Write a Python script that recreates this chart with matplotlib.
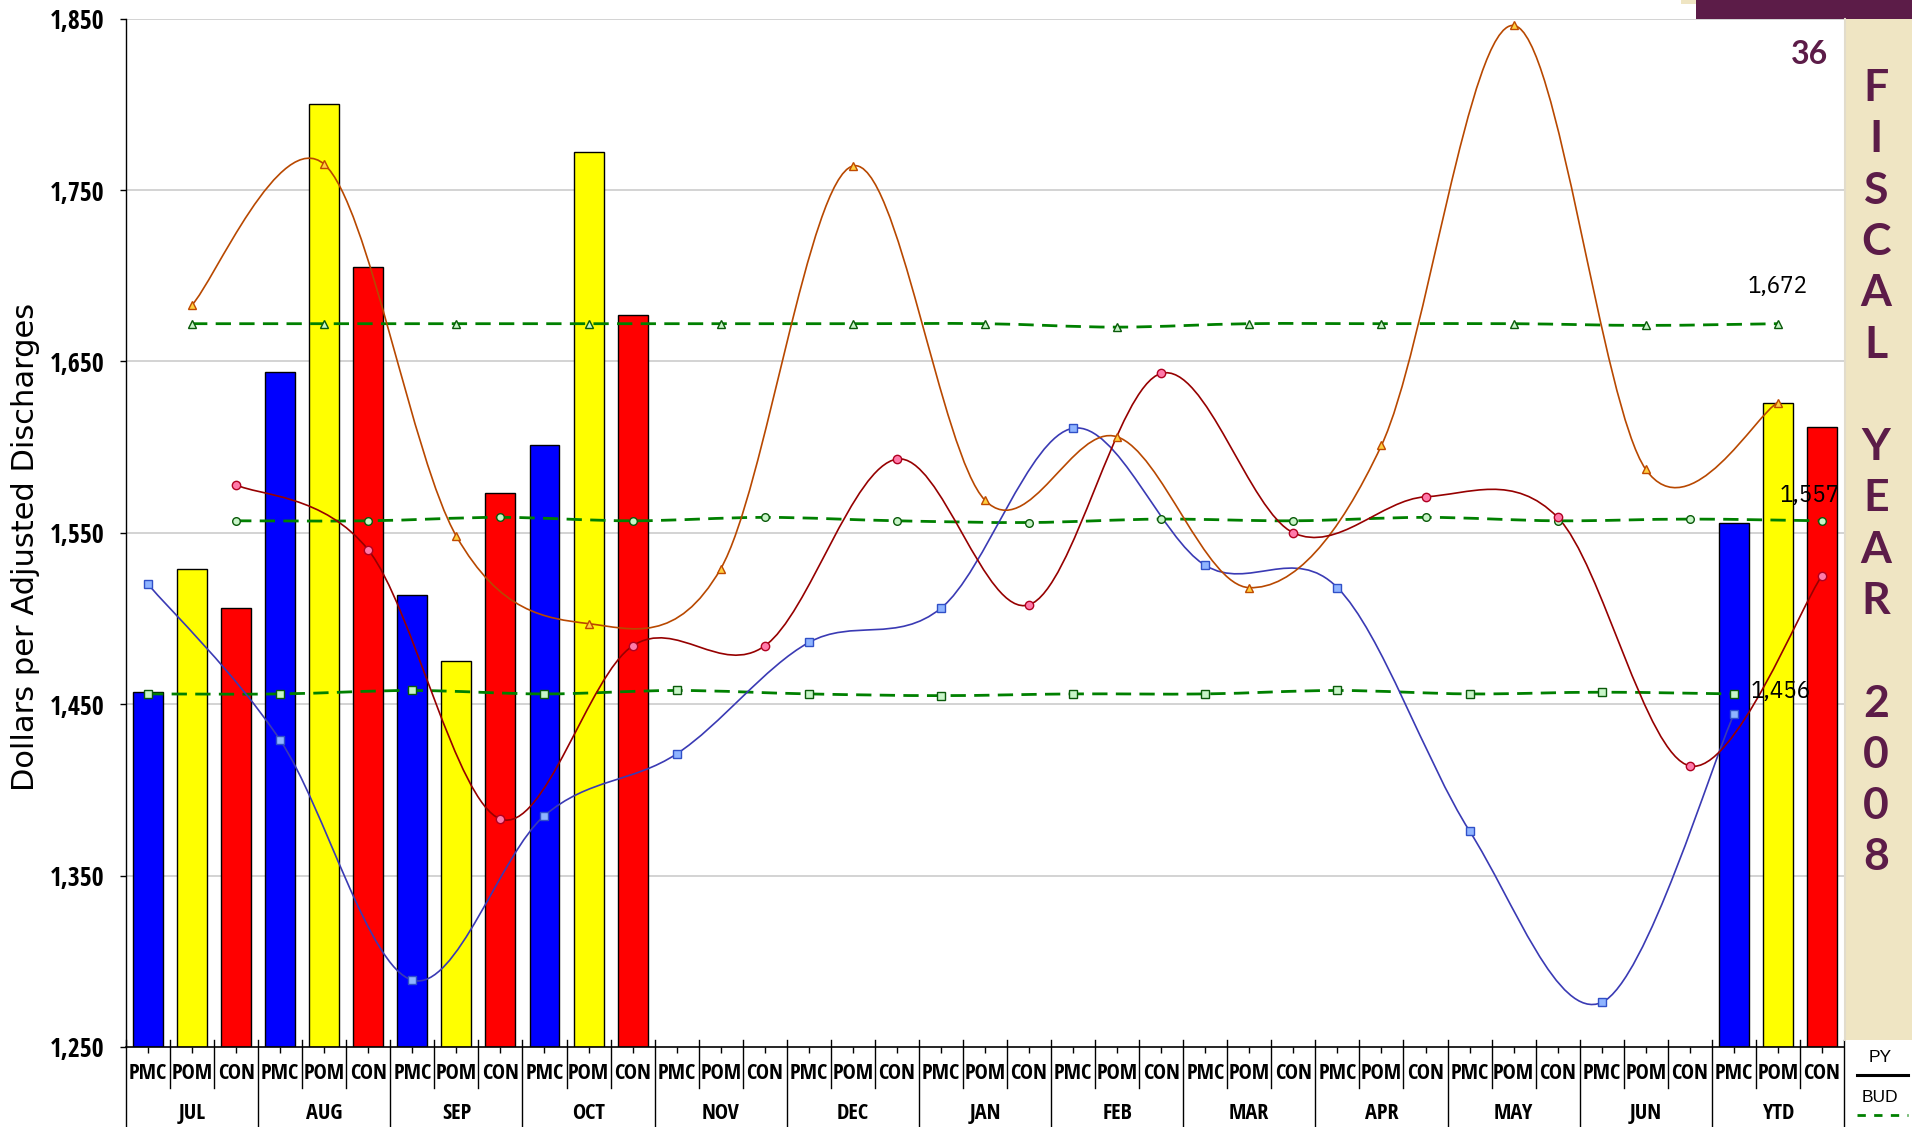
import numpy as np
import matplotlib
matplotlib.use("Agg")
import matplotlib.pyplot as plt
from matplotlib.path import Path
from matplotlib.patches import PathPatch, Rectangle
from matplotlib.lines import Line2D

# ---------------- data ----------------
months = ["JUL", "AUG", "SEP", "OCT", "NOV", "DEC", "JAN", "FEB", "MAR",
          "APR", "MAY", "JUN", "YTD"]
categories = ["PMC", "POM", "CON"]
nan = np.nan

# actual cost per adjusted discharge (bars)
actual_pmc = [1457, 1644, 1514, 1601, nan, nan, nan, nan, nan, nan, nan, nan, 1556]
actual_pom = [1529, 1800, 1475, 1772, nan, nan, nan, nan, nan, nan, nan, nan, 1626]
actual_con = [1506, 1705, 1573, 1677, nan, nan, nan, nan, nan, nan, nan, nan, 1612]

# prior year (smoothed lines)
py_pmc = [1520, 1429, 1289, 1385, 1421, 1486, 1506, 1611, 1531, 1518, 1376, 1276, 1444]
py_pom = [1683, 1765, 1548, 1497, 1529, 1764, 1569, 1606, 1518, 1601, 1846, 1587, 1626]
py_con = [1578, 1540, 1383, 1484, 1484, 1593, 1508, 1643, 1550, 1571, 1559, 1414, 1525]

# budget (dashed lines)
bud_pmc = [1456, 1456, 1458, 1456, 1458, 1456, 1455, 1456, 1456, 1458, 1456, 1457, 1456]
bud_pom = [1672, 1672, 1672, 1672, 1672, 1672, 1672, 1670, 1672, 1672, 1672, 1671, 1672]
bud_con = [1557, 1557, 1559, 1557, 1559, 1557, 1556, 1558, 1557, 1559, 1557, 1558, 1557]

y_ticks = [1250, 1350, 1450, 1550, 1650, 1750, 1850]
side_title = "FISCAL YEAR 2008"
page_number = "36"

# ---------------- styling ----------------
W, H = 1912, 1127
PURPLE = "#5C1C48"
TAN = "#EFE5C3"
NARROW_BOLD = ["Open Sans Condensed", "DejaVu Sans"]
NARROW = ["IBM Plex Sans Condensed", "DejaVu Sans"]
bar_colors = ["#0000FF", "#FFFF00", "#FF0000"]
py_styles = [
    dict(color="#3A3AB4", marker="s", mfc="#8FB4FF", mec="#3050C8"),
    dict(color="#B84800", marker="^", mfc="#FFD040", mec="#C04A00"),
    dict(color="#960000", marker="o", mfc="#FF7AAA", mec="#B00020"),
]
bud_markers = ["s", "^", "o"]
GREEN = "#008000"


def fx(px):
    return px / W


def fy(py):
    return 1 - py / H


def smooth_path(xs, ys, t=1.0 / 6.0):
    """Cubic Bezier path through the points, spreadsheet-style smoothing."""
    pts = np.column_stack([xs, ys]).astype(float)
    n = len(pts)
    verts = [pts[0]]
    codes = [Path.MOVETO]
    for i in range(n - 1):
        p0 = pts[i - 1] if i > 0 else pts[i]
        p1 = pts[i]
        p2 = pts[i + 1]
        p3 = pts[i + 2] if i + 2 < n else pts[i + 1]
        verts += [p1 + (p2 - p0) * t, p2 - (p3 - p1) * t, p2]
        codes += [Path.CURVE4] * 3
    return Path(verts, codes)


fig = plt.figure(figsize=(W / 100, H / 100), dpi=100)
fig.patch.set_facecolor("white")

ax_left, ax_right, ax_top, ax_bottom = 126, 1844, 18.6, 1047
ax = fig.add_axes([fx(ax_left), fy(ax_bottom),
                   fx(ax_right) - fx(ax_left), fy(ax_top) - fy(ax_bottom)])

n_m = len(months)
n_c = len(categories)


def slot(m, c):
    return m * n_c + c


ax.set_xlim(-0.5, n_m * n_c - 0.5)
ax.set_ylim(y_ticks[0], y_ticks[-1])

# gridlines
for v in y_ticks[1:]:
    ax.axhline(v, color="#C8C8C8", lw=1.1, zorder=0)

# bars
bar_series = [actual_pmc, actual_pom, actual_con]
for c, vals in enumerate(bar_series):
    xs = [slot(m, c) for m in range(n_m)]
    ax.bar(xs, np.array(vals) - y_ticks[0], bottom=y_ticks[0], width=0.68,
           color=bar_colors[c], edgecolor="black", linewidth=1.0, zorder=2)

# budget lines (dashed, smoothed)
bud_series = [bud_pmc, bud_pom, bud_con]
for c, vals in enumerate(bud_series):
    xs = [slot(m, c) for m in range(n_m)]
    ax.add_patch(PathPatch(smooth_path(xs, vals), fill=False, edgecolor=GREEN,
                           lw=2.0, linestyle=(0, (5.5, 3.0)), zorder=3))
    ax.plot(xs, vals, linestyle="none", marker=bud_markers[c], ms=5.5,
            mfc="#C8F5C8", mec="#0A5A0A", mew=1.0, zorder=5)

# prior-year lines (solid, smoothed)
py_series = [py_pmc, py_pom, py_con]
for c, vals in enumerate(py_series):
    st = py_styles[c]
    xs = [slot(m, c) for m in range(n_m)]
    ax.add_patch(PathPatch(smooth_path(xs, vals), fill=False,
                           edgecolor=st["color"], lw=1.2, zorder=4))
    ax.plot(xs, vals, linestyle="none", marker=st["marker"], ms=6,
            mfc=st["mfc"], mec=st["mec"], mew=1.0, zorder=6)

# budget value labels at YTD
ytd = n_m - 1
lab_font = dict(family=NARROW, fontsize=18, color="black")
ax.annotate(f"{bud_pom[ytd]:,}", (slot(ytd, 1), bud_pom[ytd]), xytext=(0, 27),
            textcoords="offset points", ha="center", va="center", zorder=7, **lab_font)
ax.annotate(f"{bud_con[ytd]:,}", (slot(ytd, 2), bud_con[ytd]), xytext=(-9, 18),
            textcoords="offset points", ha="center", va="center", zorder=7, **lab_font)
ax.annotate(f"{bud_pmc[ytd]:,}", (slot(ytd, 0), bud_pmc[ytd]), xytext=(12, 2),
            textcoords="offset points", ha="left", va="center", zorder=7, **lab_font)

# axes styling
for s in ["top", "right"]:
    ax.spines[s].set_visible(False)
ax.spines["left"].set_color("black")
ax.spines["bottom"].set_color("black")
ax.spines["left"].set_linewidth(1.0)
ax.spines["bottom"].set_linewidth(1.2)
ax.set_yticks(y_ticks)
ax.set_yticklabels([f"{v:,}" for v in y_ticks], fontfamily=NARROW_BOLD,
                   fontweight="bold", fontsize=18.5)
ax.tick_params(axis="y", direction="out", length=4.5, width=1, pad=11)
ax.set_xticks([slot(m, c) for m in range(n_m) for c in range(n_c)])
ax.set_xticklabels([])
ax.tick_params(axis="x", direction="out", length=4, width=1)

# category axis: sub-labels, month labels and separators
ph = ax_bottom - ax_top
tr = ax.get_xaxis_transform()
y_sub = -(1073.5 - ax_bottom) / ph
y_month = -(1113.5 - ax_bottom) / ph
y_sep_short = -(1088 - ax_bottom) / ph
y_sep_long = -(1127 - ax_bottom) / ph
y_sep_top = 7 / ph
for m in range(n_m):
    for c in range(n_c):
        ax.text(slot(m, c), y_sub, categories[c], transform=tr, ha="center",
                va="center", fontfamily=NARROW_BOLD, fontweight="bold",
                fontsize=16, clip_on=False)
    ax.text(slot(m, 1), y_month, months[m], transform=tr, ha="center",
            va="center", fontfamily=NARROW_BOLD, fontweight="bold",
            fontsize=16, clip_on=False)
for b in range(n_m * n_c + 1):
    xb = b - 0.5
    low = y_sep_long if b % n_c == 0 else y_sep_short
    ax.add_line(Line2D([xb, xb], [y_sep_top, low], transform=tr, color="black",
                       lw=1.0, clip_on=False))

# y-axis title
fig.text(fx(26), fy(547), "Dollars per Adjusted Discharges", rotation=90,
         ha="center", va="center", fontsize=22, family="DejaVu Sans")

# side banner
fig.patches.append(Rectangle((fx(1845), fy(1040)), fx(1912) - fx(1845),
                             fy(18.6) - fy(1040), transform=fig.transFigure,
                             facecolor=TAN, edgecolor="none", zorder=0))
fig.lines.append(Line2D([fx(1845), fx(1845)], [fy(18.6), fy(1040)],
                        transform=fig.transFigure, color="#E2DCCB", lw=1.5))
fig.patches.append(Rectangle((fx(1696), fy(19)), fx(1912) - fx(1696),
                             fy(0) - fy(19), transform=fig.transFigure,
                             facecolor=PURPLE, edgecolor="none"))
fig.patches.append(Rectangle((fx(1681), fy(4)), fx(1696) - fx(1681),
                             fy(0) - fy(4), transform=fig.transFigure,
                             facecolor=TAN, edgecolor="none"))
fig.text(fx(1809), fy(54), page_number, ha="center", va="center",
         fontsize=23, color=PURPLE, family="Lato", fontweight="bold")
for i, ch in enumerate(side_title):
    if ch == " ":
        continue
    fig.text(fx(1876), fy(88 + 51.3 * i), ch, ha="center", va="center",
             fontsize=32, color=PURPLE, family="Lato", fontweight="bold")

# legend box at the bottom right
fig.text(fx(1880), fy(1058), "PY", ha="center", va="center", fontsize=12.5,
         family="Liberation Sans")
fig.lines.append(Line2D([fx(1857), fx(1908)], [fy(1075), fy(1075)],
                        transform=fig.transFigure, color="black", lw=2.2))
fig.text(fx(1880), fy(1098), "BUD", ha="center", va="center", fontsize=12.5,
         family="Liberation Sans")
fig.lines.append(Line2D([fx(1857), fx(1908)], [fy(1115), fy(1115)],
                        transform=fig.transFigure, color=GREEN, lw=2.0,
                        linestyle=(0, (3, 3))))

fig.savefig("out.png", dpi=100)
